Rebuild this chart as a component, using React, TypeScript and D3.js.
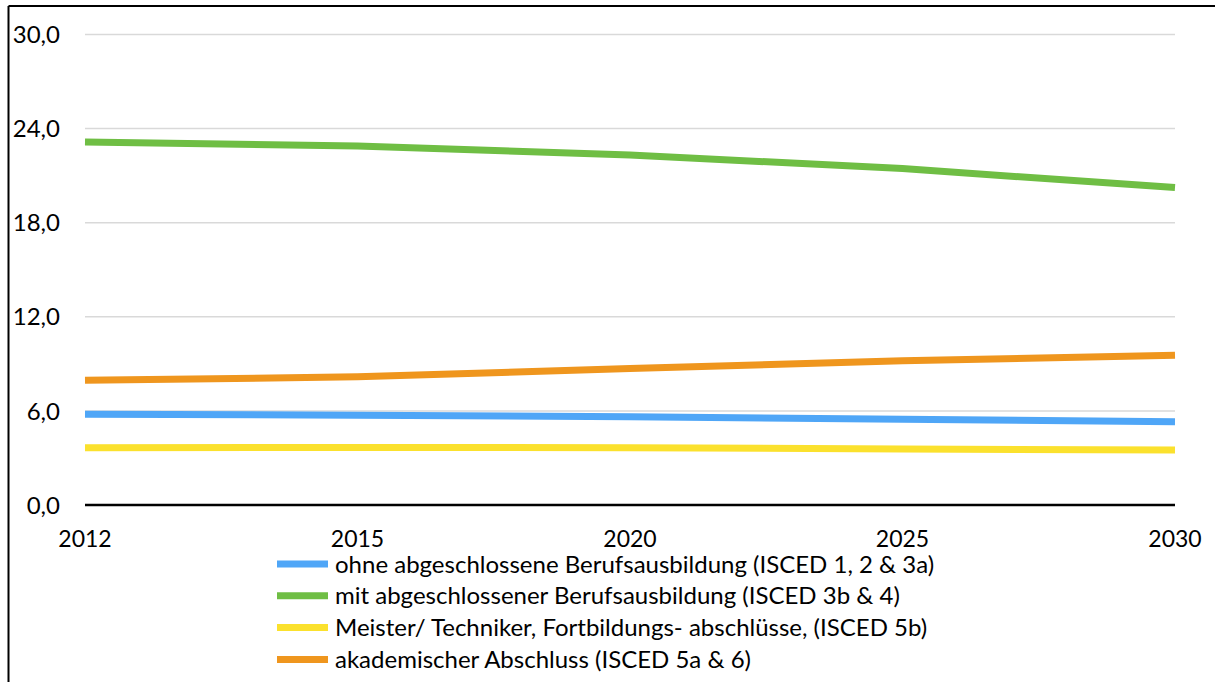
import React from "react";
import * as d3 from "d3";

const years = ["2012", "2015", "2020", "2025", "2030"];
const yTicks = [0, 6, 12, 18, 24, 30];
const seriesNames = [
  "ohne abgeschlossene Berufsausbildung (ISCED 1, 2 & 3a)",
  "mit abgeschlossener Berufsausbildung (ISCED 3b & 4)",
  "Meister/ Techniker, Fortbildungs- abschlüsse, (ISCED 5b)",
  "akademischer Abschluss (ISCED 5a & 6)",
];
const ohne = [5.78, 5.73, 5.63, 5.46, 5.31];
const mit = [23.14, 22.89, 22.32, 21.45, 20.24];
const meister = [3.65, 3.67, 3.65, 3.57, 3.5];
const akademisch = [7.95, 8.17, 8.7, 9.19, 9.55];
const colors = ["#4FA6F7", "#6FBE44", "#FBE12D", "#EF961E"];

const seriesValues = [ohne, mit, meister, akademisch];
const drawOrder = [1, 3, 0, 2];

const W = 1215;
const H = 682;
const FONT = "Lato, 'Open Sans', sans-serif";

export default function App() {
  const x = d3.scalePoint<string>().domain(years).range([85, 1175]);
  const y = d3.scaleLinear().domain([0, 30]).range([505, 34.5]);
  const line = d3
    .line<number>()
    .x((_, i) => x(years[i]) as number)
    .y((d) => y(d));

  return (
    <svg
      width={W}
      height={H}
      style={{ position: "absolute", left: 0, top: 0, background: "#fff" }}
    >
      <rect x={0} y={0} width={W} height={H} fill="#fff" />
      <line x1={8.5} y1={6} x2={8.5} y2={H} stroke="#000" strokeWidth={2} />
      <line x1={8.5} y1={6} x2={W} y2={6} stroke="#000" strokeWidth={2} />
      {yTicks
        .filter((t) => t !== 0)
        .map((t) => (
          <line
            key={t}
            x1={85}
            x2={1175}
            y1={y(t)}
            y2={y(t)}
            stroke="#d9d9d9"
            strokeWidth={1.5}
          />
        ))}
      {yTicks.map((t) => (
        <text
          key={t}
          x={60}
          y={y(t)}
          dy="0.36em"
          textAnchor="end"
          fontFamily={FONT}
          fontSize={24}
          fill="#000"
        >
          {t.toFixed(1).replace(".", ",")}
        </text>
      ))}
      {drawOrder.map((si) => (
        <path
          key={si}
          d={line(seriesValues[si]) || ""}
          fill="none"
          stroke={colors[si]}
          strokeWidth={7}
          strokeLinejoin="round"
        />
      ))}
      <line x1={85} x2={1175} y1={y(0)} y2={y(0)} stroke="#000" strokeWidth={2.5} />
      {years.map((yr) => (
        <text
          key={yr}
          x={x(yr)}
          y={547}
          textAnchor="middle"
          fontFamily={FONT}
          fontSize={23}
          fill="#000"
        >
          {yr}
        </text>
      ))}
      {seriesNames.map((name, i) => {
        const cy = 564 + i * 31.8;
        return (
          <g key={name}>
            <line x1={277} x2={328} y1={cy} y2={cy} stroke={colors[i]} strokeWidth={7} />
            <text
              x={335}
              y={cy}
              dy="0.36em"
              fontFamily={FONT}
              fontSize={24}
              fill="#000"
            >
              {name}
            </text>
          </g>
        );
      })}
    </svg>
  );
}
